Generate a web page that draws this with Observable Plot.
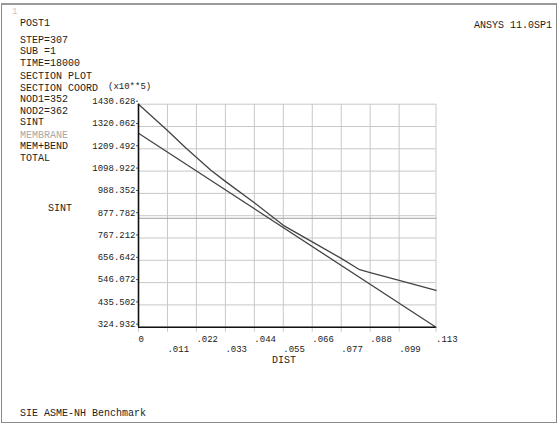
<!DOCTYPE html>
<html><head><meta charset="utf-8">
<script src="https://cdn.jsdelivr.net/npm/d3@7"></script>
<script src="https://cdn.jsdelivr.net/npm/@observablehq/plot@0.6"></script>
<style>
body{margin:0;background:#fff;}
#wrap{position:relative;width:560px;height:426px;overflow:hidden;font-family:"Liberation Mono",monospace;color:#222;background:#fff;}
#frame{position:absolute;left:1px;top:3px;width:556px;height:420px;border:1px solid #8a8a8a;border-top:2px solid #9a9a9a;box-sizing:border-box;pointer-events:none;}
.t{position:absolute;font-size:10px;line-height:1;white-space:pre;}
#chart{position:absolute;left:0;top:0;}
</style></head><body>
<div id="wrap"><div id="chart"></div><div id="frame"></div></div>
<script>
// ---- data ----
const xTicks = [0, 0.011, 0.022, 0.033, 0.044, 0.055, 0.066, 0.077, 0.088, 0.099, 0.113];
const xTickLabels = ["0", ".011", ".022", ".033", ".044", ".055", ".066", ".077", ".088", ".099", ".113"];
const yTicks = [324.932, 435.502, 546.072, 656.642, 767.212, 877.782, 988.352, 1098.922, 1209.492, 1320.062, 1430.628];
const yTickLabels = ["324.932", "435.502", "546.072", "656.642", "767.212", "877.782", "988.352", "1098.922", "1209.492", "1320.062", "1430.628"];

const totalDist = [0, 0.011, 0.018, 0.0275, 0.033, 0.044, 0.055, 0.066, 0.077, 0.084, 0.088, 0.099, 0.113];
const totalVal  = [1430.628, 1300, 1213, 1103, 1048, 942, 830, 748, 666, 610, 596, 557, 507];
const memBendDist = [0, 0.113];
const memBendVal  = [1286.8, 324.932];
const membraneDist = [0, 0.113];
const membraneVal  = [865, 865];

const infoLines = ["POST1","STEP=307","SUB =1","TIME=18000","SECTION PLOT","SECTION COORD","NOD1=352","NOD2=362","SINT","MEMBRANE","MEM+BEND","TOTAL"];
const infoY = [23.3, 40, 51.7, 63.3, 76, 88.3, 99.3, 111, 122.7, 135, 146.7, 158.3];

// ---- build ----
const FONT = "Liberation Mono, monospace";
const total = totalDist.map((d,i)=>({x:d, y:totalVal[i]}));
const memBend = memBendDist.map((d,i)=>({x:d, y:memBendVal[i]}));
const membrane = membraneDist.map((d,i)=>({x:d, y:membraneVal[i]}));
const row1 = xTicks.map((d,i)=>({x:d, label:xTickLabels[i]})).filter((d,i)=>i%2===0 || i===xTicks.length-1);
const row2 = xTicks.map((d,i)=>({x:d, label:xTickLabels[i]})).filter((d,i)=>i%2===1 && i!==xTicks.length-1);

const chart = Plot.plot({
  width: 560, height: 426,
  marginLeft: 138, marginRight: 124.5, marginTop: 103.7, marginBottom: 99.3,
  style: {fontFamily: FONT, background: "transparent", color: "#222"},
  x: {domain: [0, 0.113], ticks: xTicks, axis: null},
  y: {domain: [324.932, 1430.628], axis: null},
  marks: [
    Plot.gridX(xTicks, {stroke: "#c8c8c8", strokeOpacity: 1}),
    Plot.gridY(yTicks, {stroke: "#c8c8c8", strokeOpacity: 1}),
    Plot.axisX({ticks: xTicks, tickSize: 5, stroke: "#c8c8c8", tickFormat: () => "", label: null}),
    Plot.axisY({ticks: yTicks, tickSize: 2, tickPadding: 1, stroke: "#555",
      tickFormat: d => yTickLabels[yTicks.indexOf(d)] ?? d.toFixed(3),
      fontSize: 9, fontFamily: FONT, dy: -3, label: null, fill: "#222"}),
    Plot.line(membrane, {x: "x", y: "y", stroke: "#a0a0a0", strokeWidth: 1}),
    Plot.line(memBend, {x: "x", y: "y", stroke: "#444", strokeWidth: 1.3}),
    Plot.line(total, {x: "x", y: "y", stroke: "#444", strokeWidth: 1.3}),
    Plot.ruleX([0], {stroke: "#111", strokeWidth: 1.6}),
    Plot.ruleY([324.932], {stroke: "#111", strokeWidth: 1.6}),
    Plot.text(row1, {x: "x", text: "label", frameAnchor: "bottom", textAnchor: "start", lineAnchor: "middle", dy: 11.6, dx: 0, fontSize: 9, fontFamily: FONT, fill: "#222"}),
    Plot.text(row2, {x: "x", text: "label", frameAnchor: "bottom", textAnchor: "start", lineAnchor: "middle", dy: 22.3, dx: 0, fontSize: 9, fontFamily: FONT, fill: "#222"})
  ]
});
document.getElementById("chart").appendChild(chart);

// ---- annotation text ----
const wrap = document.getElementById("wrap");
function addText(str, x, yc, size, color, anchorRight) {
  const el = document.createElement("div");
  el.className = "t";
  el.textContent = str;
  el.style.fontSize = size + "px";
  el.style.top = (yc - size*0.44) + "px";
  if (anchorRight) el.style.right = (560 - x) + "px"; else el.style.left = x + "px";
  if (color) el.style.color = color;
  wrap.appendChild(el);
}
addText("1", 12, 11.5, 9, "#c8c8c8");
infoLines.forEach((s,i)=> addText(s, 20, infoY[i], 10, s === "MEMBRANE" ? "#a8a8a8" : "#222"));
addText("(x10**5)", 108, 87.3, 9, "#222");
addText("ANSYS 11.0SP1", 552, 25, 10, "#222", true);
addText("SINT", 48, 208.5, 10, "#222");
addText("DIST", 272, 360, 10, "#222");
addText("SIE ASME-NH Benchmark", 20, 413.5, 10, "#222");
</script>
</body></html>
